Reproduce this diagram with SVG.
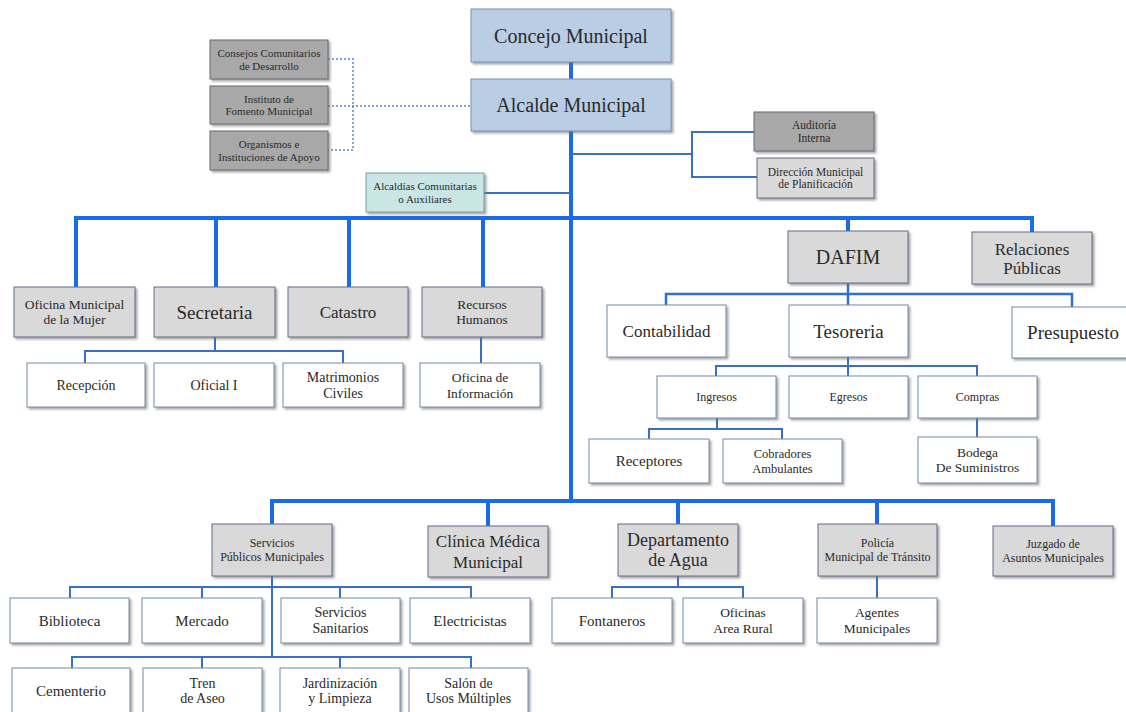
<svg xmlns="http://www.w3.org/2000/svg" width="1126" height="712" viewBox="0 0 1126 712" font-family="'Liberation Serif', 'DejaVu Serif', serif">
<defs>
<filter id="sh" x="-10%" y="-10%" width="130%" height="140%">
<feDropShadow dx="2" dy="2" stdDeviation="1" flood-color="#6f6f6f" flood-opacity="0.6"/>
</filter>
<style>
rect{stroke-width:1;filter:url(#sh)}
.g{fill:#d9d9d9;stroke:#5f6f84}
.w{fill:#ffffff;stroke:#7489a6}
.d{fill:#a8a8a8;stroke:#666a70}
.t{fill:#b9cde5;stroke:#7b91b0}
.a{fill:#c9e6e4;stroke:#7d9ca6}
text{font-family:'Liberation Serif','DejaVu Serif',serif;fill:#2a2a2a;text-anchor:middle}
.thick{stroke:#1a6aea;stroke-width:4;fill:none}
.mid{stroke:#2d6fd6;stroke-width:2.5;fill:none}
.thin{stroke:#3670c8;stroke-width:2;fill:none}
.dot{stroke:#5a86c4;stroke-width:1.5;stroke-dasharray:2 2;fill:none}
</style>
</defs>
<rect width="1126" height="712" fill="#ffffff" style="filter:none;stroke:none"/>

<g id="connectors">
<path class="thick" d="M571 62V79M571 131V501"/>
<path class="thick" d="M76 287V218H1032V232M216 218V287M349 218V287M483 218V287M848 218V231"/>
<path class="thick" d="M272 524V501H1053V526M488 501V526M678 501V524M877 501V524"/>
<path class="thin" d="M571 154H692M754 132H692V177H757M484 193H571"/>
<path class="dot" d="M328 59H353V150H328M328 106H471"/>
<path class="thin" d="M215 337V351M85 363V351H343V363M481 337V363"/>
<path class="mid" d="M848 283V305M666 305V294H1072V307"/>
<path class="thin" d="M848 357V376M716 376V366H977V376M717 418V429M649 439V429H782V439M977 418V437"/>
<path class="thin" d="M272 576V657M70 598V587H471V598M202 587V598M340 587V598M72 668V657H471V668M202 657V668M340 657V668"/>
<path class="thin" d="M678 576V587M612 598V587H743V598M877 576V598"/>
</g>

<g id="concejo"><rect class="t" x="471" y="9" width="200" height="53"/><text x="571" y="42.5" font-size="20">Concejo Municipal</text></g>
<g id="alcalde"><rect class="t" x="471" y="79" width="200" height="52"/><text x="571" y="112" font-size="20">Alcalde Municipal</text></g>

<g id="consejos"><rect class="d" x="210" y="40" width="118" height="39"/><text x="269" y="57" font-size="11">Consejos Comunitarios</text><text x="269" y="69.5" font-size="11">de Desarrollo</text></g>
<g id="instituto"><rect class="d" x="210" y="86" width="118" height="38"/><text x="269" y="102.5" font-size="11">Instituto de</text><text x="269" y="115" font-size="11">Fomento Municipal</text></g>
<g id="organismos"><rect class="d" x="210" y="131" width="118" height="39"/><text x="269" y="148" font-size="11">Organismos e</text><text x="269" y="160.5" font-size="11">Instituciones de Apoyo</text></g>

<g id="auditoria"><rect class="d" x="754" y="112" width="120" height="39"/><text x="814" y="129.3" font-size="11.5">Auditoría</text><text x="814" y="141.8" font-size="11.5">Interna</text></g>
<g id="direccion"><rect class="g" x="757" y="158" width="117" height="40"/><text x="815.5" y="175.8" font-size="11.5">Dirección Municipal</text><text x="815.5" y="188.3" font-size="11.5">de Planificación</text></g>
<g id="alcaldias"><rect class="a" x="366" y="173" width="118" height="39"/><text x="425" y="190.3" font-size="11">Alcaldías Comunitarias</text><text x="425" y="202.8" font-size="11">o Auxiliares</text></g>

<g id="mujer"><rect class="g" x="14" y="287" width="121" height="50"/><text x="74.5" y="309.2" font-size="13.5">Oficina Municipal</text><text x="74.5" y="324.2" font-size="13.5">de la Mujer</text></g>
<g id="secretaria"><rect class="g" x="154" y="287" width="121" height="50"/><text x="214.5" y="318.6" font-size="19">Secretaria</text></g>
<g id="catastro"><rect class="g" x="288" y="287" width="120" height="50"/><text x="348" y="318" font-size="17">Catastro</text></g>
<g id="rrhh"><rect class="g" x="422" y="287" width="120" height="50"/><text x="482" y="309.2" font-size="13.5">Recursos</text><text x="482" y="324.2" font-size="13.5">Humanos</text></g>
<g id="dafim"><rect class="g" x="788" y="231" width="120" height="52"/><text x="848" y="264" font-size="20">DAFIM</text></g>
<g id="relaciones"><rect class="g" x="972" y="232" width="120" height="52"/><text x="1032" y="254.5" font-size="17">Relaciones</text><text x="1032" y="273.5" font-size="17">Públicas</text></g>

<g id="recepcion"><rect class="w" x="27" y="363" width="118" height="44"/><text x="86" y="389.9" font-size="14">Recepción</text></g>
<g id="oficial"><rect class="w" x="154" y="363" width="120" height="44"/><text x="214" y="389.9" font-size="14">Oficial I</text></g>
<g id="matrimonios"><rect class="w" x="283" y="363" width="120" height="44"/><text x="343" y="381.9" font-size="14">Matrimonios</text><text x="343" y="397.9" font-size="14">Civiles</text></g>
<g id="informacion"><rect class="w" x="420" y="363" width="120" height="44"/><text x="480" y="381.7" font-size="13.5">Oficina de</text><text x="480" y="397.7" font-size="13.5">Información</text></g>

<g id="contabilidad"><rect class="w" x="607" y="305" width="119" height="52"/><text x="666.5" y="337" font-size="17">Contabilidad</text></g>
<g id="tesoreria"><rect class="w" x="789" y="305" width="119" height="52"/><text x="848.5" y="337.6" font-size="19">Tesoreria</text></g>
<g id="presupuesto"><rect class="w" x="1012" y="307" width="122" height="51"/><text x="1073" y="339" font-size="19">Presupuesto</text></g>
<g id="ingresos"><rect class="w" x="657" y="376" width="119" height="42"/><text x="716.5" y="401.2" font-size="12">Ingresos</text></g>
<g id="egresos"><rect class="w" x="789" y="376" width="119" height="42"/><text x="848.5" y="401.2" font-size="12">Egresos</text></g>
<g id="compras"><rect class="w" x="918" y="376" width="119" height="42"/><text x="977.5" y="401.2" font-size="12">Compras</text></g>
<g id="receptores"><rect class="w" x="589" y="439" width="120" height="44"/><text x="649" y="466.2" font-size="15">Receptores</text></g>
<g id="cobradores"><rect class="w" x="723" y="439" width="119" height="44"/><text x="782.5" y="457.7" font-size="12.5">Cobradores</text><text x="782.5" y="472.7" font-size="12.5">Ambulantes</text></g>
<g id="bodega"><rect class="w" x="918" y="437" width="119" height="46"/><text x="977.5" y="457.2" font-size="13.5">Bodega</text><text x="977.5" y="472.2" font-size="13.5">De Suministros</text></g>

<g id="servicios"><rect class="g" x="212" y="524" width="120" height="52"/><text x="272" y="547.2" font-size="12">Servicios</text><text x="272" y="561.2" font-size="12">Públicos Municipales</text></g>
<g id="clinica"><rect class="g" x="428" y="526" width="120" height="51"/><text x="488" y="547" font-size="17">Clínica Médica</text><text x="488" y="568" font-size="17">Municipal</text></g>
<g id="agua"><rect class="g" x="618" y="524" width="120" height="52"/><text x="678" y="546.3" font-size="18">Departamento</text><text x="678" y="566.3" font-size="18">de Agua</text></g>
<g id="policia"><rect class="g" x="818" y="524" width="119" height="52"/><text x="877.5" y="547.2" font-size="12">Policía</text><text x="877.5" y="561.2" font-size="12">Municipal de Tránsito</text></g>
<g id="juzgado"><rect class="g" x="993" y="526" width="120" height="50"/><text x="1053" y="548.2" font-size="12">Juzgado de</text><text x="1053" y="562.2" font-size="12">Asuntos Municipales</text></g>

<g id="biblioteca"><rect class="w" x="10" y="598" width="119" height="45"/><text x="69.5" y="625.8" font-size="15">Biblioteca</text></g>
<g id="mercado"><rect class="w" x="142" y="598" width="120" height="45"/><text x="202" y="625.8" font-size="15">Mercado</text></g>
<g id="sanitarios"><rect class="w" x="281" y="598" width="119" height="45"/><text x="340.5" y="617.4" font-size="14">Servicios</text><text x="340.5" y="633.4" font-size="14">Sanitarios</text></g>
<g id="electricistas"><rect class="w" x="410" y="598" width="120" height="45"/><text x="470" y="625.8" font-size="15">Electricistas</text></g>
<g id="fontaneros"><rect class="w" x="552" y="598" width="120" height="45"/><text x="612" y="625.8" font-size="15">Fontaneros</text></g>
<g id="oficinas"><rect class="w" x="683" y="598" width="120" height="45"/><text x="743" y="617.2" font-size="13.5">Oficinas</text><text x="743" y="633.2" font-size="13.5">Area Rural</text></g>
<g id="agentes"><rect class="w" x="817" y="598" width="120" height="45"/><text x="877" y="617.2" font-size="13.5">Agentes</text><text x="877" y="633.2" font-size="13.5">Municipales</text></g>

<g id="cementerio"><rect class="w" x="12" y="668" width="118" height="46"/><text x="71" y="696.2" font-size="15">Cementerio</text></g>
<g id="tren"><rect class="w" x="143" y="668" width="119" height="46"/><text x="202.5" y="688.4" font-size="14">Tren</text><text x="202.5" y="703.4" font-size="14">de Aseo</text></g>
<g id="jardinizacion"><rect class="w" x="280" y="668" width="120" height="46"/><text x="340" y="688.4" font-size="14">Jardinización</text><text x="340" y="703.4" font-size="14">y Limpieza</text></g>
<g id="salon"><rect class="w" x="409" y="668" width="119" height="46"/><text x="468.5" y="688.4" font-size="14">Salón de</text><text x="468.5" y="703.4" font-size="14">Usos Múltiples</text></g>
</svg>
